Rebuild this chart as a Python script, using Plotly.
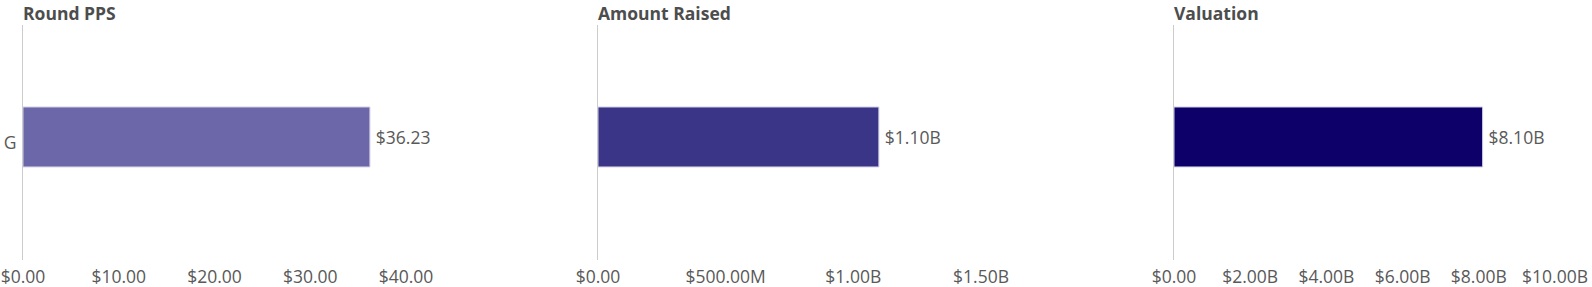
import plotly.graph_objects as go

categories = ["G"]
panel_titles = ["Round PPS", "Amount Raised", "Valuation"]
round_pps = [36.23]
amount_raised = [1.10e9]
valuation = [8.10e9]
value_labels = [["$36.23"], ["$1.10B"], ["$8.10B"]]
colors = ["#6B67A8", "#3A3587", "#0D0068"]

tick_vals = [
    [0, 10, 20, 30, 40],
    [0, 0.5e9, 1.0e9, 1.5e9],
    [0, 2e9, 4e9, 6e9, 8e9, 10e9],
]
tick_text = [
    ["$0.00", "$10.00", "$20.00", "$30.00", "$40.00"],
    ["$0.00", "$500.00M", "$1.00B", "$1.50B"],
    ["$0.00", "$2.00B", "$4.00B", "$6.00B", "$8.00B", "$10.00B"],
]
x_ranges = [[0, 40], [0, 1.5e9], [0, 10e9]]

series = [round_pps, amount_raised, valuation]

W, H = 1592, 287
ml, mr, mt, mb = 23, 37, 25, 27
pw = W - ml - mr
panel_w = 383
lefts = [0, 575, 1151]
domains = [[l / pw, min((l + panel_w) / pw, 1)] for l in lefts]

FONT = "Open Sans"
TXT = "#595959"
FS = 17.5

fig = go.Figure()
for i in range(3):
    xa = "x" if i == 0 else f"x{i+1}"
    ya = "y" if i == 0 else f"y{i+1}"
    fig.add_trace(go.Bar(
        x=series[i], y=categories, orientation="h",
        xaxis=xa, yaxis=ya,
        marker=dict(color=colors[i], line=dict(color="#cfcde6", width=1)),
        width=0.255, offset=-0.104,
        text=value_labels[i], texttemplate="\u2009%{text}",
        textposition="outside", cliponaxis=False,
        textfont=dict(family=FONT, size=FS, color=TXT),
        showlegend=False, hoverinfo="skip",
    ))
    xk = "xaxis" if i == 0 else f"xaxis{i+1}"
    yk = "yaxis" if i == 0 else f"yaxis{i+1}"
    fig.layout[xk] = dict(
        domain=domains[i], anchor=ya, range=x_ranges[i],
        tickvals=tick_vals[i], ticktext=tick_text[i],
        showgrid=False, zeroline=False, showline=False, ticks="",
        tickfont=dict(family=FONT, size=FS, color=TXT),
        automargin=False, ticklabelstandoff=4,
        fixedrange=True,
    )
    fig.layout[yk] = dict(
        domain=[0, 1], anchor=xa, range=[-0.5, 0.5],
        showgrid=False, zeroline=False,
        showline=True, linecolor="#cccccc", linewidth=1,
        ticks="", showticklabels=(i == 0),
        tickfont=dict(family=FONT, size=FS, color=TXT),
        automargin=False, ticklabelstandoff=2,
        fixedrange=True,
    )
    fig.add_annotation(
        text=f"<b>{panel_titles[i]}</b>", xref="paper", yref="paper",
        x=domains[i][0], y=1, xanchor="left", yanchor="bottom", yshift=-2,
        xshift=-2,
        showarrow=False, font=dict(family=FONT, size=FS, color="#4d4d4d"),
    )

fig.update_layout(
    width=W, height=H,
    margin=dict(l=ml, r=mr, t=mt, b=mb),
    paper_bgcolor="white", plot_bgcolor="white",
)
fig.write_html("out.html")
